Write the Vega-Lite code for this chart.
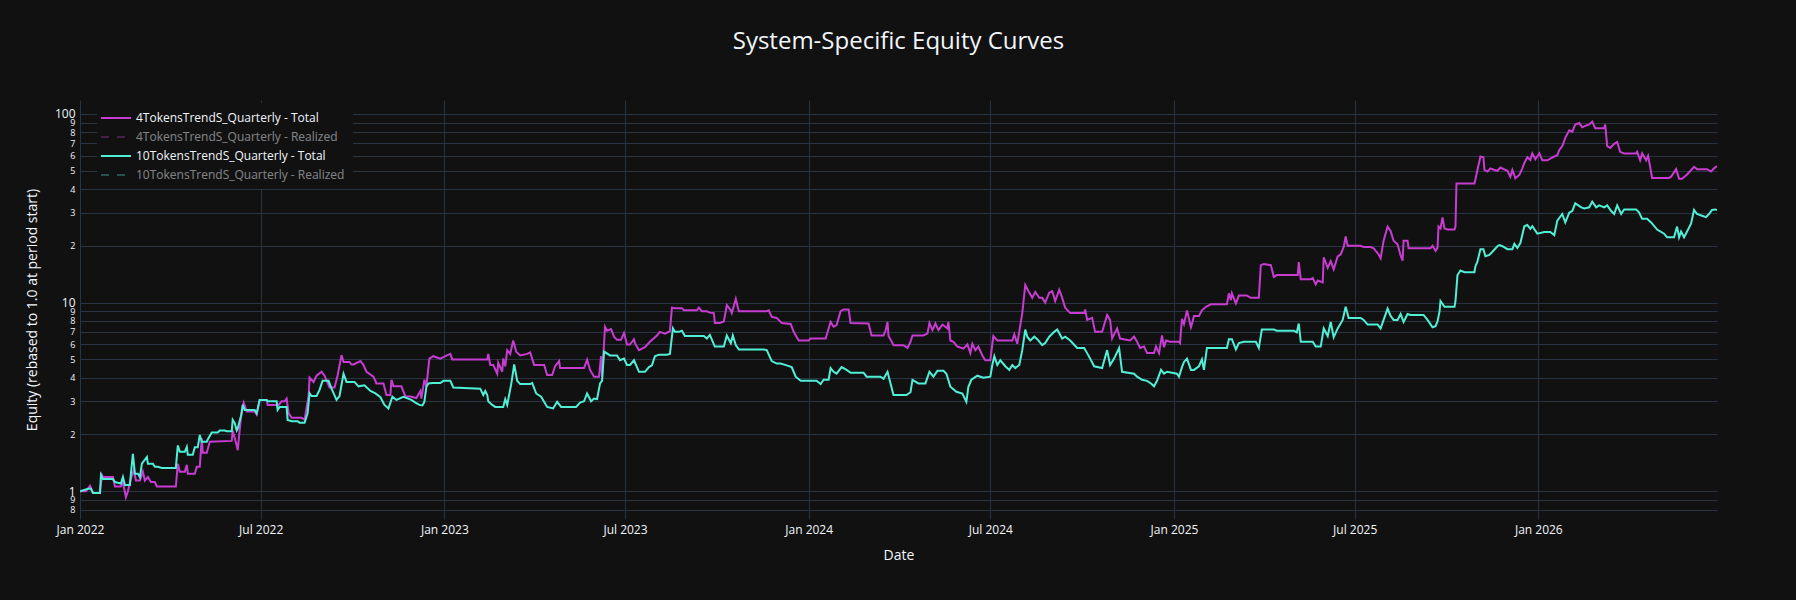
{
"$schema": "https://vega.github.io/schema/vega-lite/v6.json",
"width": 1637, "height": 419,
"autosize": {"type": "none"},
"padding": {"left": 80, "top": 100, "right": 79, "bottom": 81},
"background": "#111111",
"title": {"text": "System-Specific Equity Curves", "anchor": "middle", "fontSize": 24, "font": "Open Sans", "fontWeight": "normal", "color": "#f2f5fa", "offset": 46},
"config": {"view": {"stroke": null}},
"encoding": {
  "x": {"field": "d", "type": "temporal", "scale": {"type": "utc", "domain": [{"year": 2022, "month": 1, "date": 1, "utc": true}, {"year": 2026, "month": 6, "date": 29, "utc": true}]},
    "axis": {"tickCount": {"interval": "month", "step": 6}, "format": "%b %Y", "title": "Date", "grid": true, "gridColor": "#283442", "gridWidth": 1, "domain": false, "ticks": false, "labelColor": "#f2f5fa", "labelFont": "Open Sans", "labelFontSize": 12, "labelPadding": 5, "labelFlush": false, "titleFont": "Open Sans", "titleFontSize": 14, "titleFontWeight": "normal", "titleColor": "#f2f5fa", "titleY": 36.5, "titleBaseline": "middle"}},
  "y": {"field": "v", "type": "quantitative", "scale": {"type": "log", "domain": [0.713, 118.6], "nice": false},
    "axis": {"values": [0.8, 0.9, 1, 2, 3, 4, 5, 6, 7, 8, 9, 10, 20, 30, 40, 50, 60, 70, 80, 90, 100],
      "labelExpr": "(datum.value == 1 || datum.value == 10 || datum.value == 100) ? ('' + datum.value) : ('' + round(datum.value / pow(10, floor(log(datum.value) / LN10 + 1e-9))))",
      "labelFontSize": {"condition": {"test": "datum.value == 1 || datum.value == 10 || datum.value == 100", "value": 12}, "value": 9},
      "title": "Equity (rebased to 1.0 at period start)", "grid": true, "gridColor": "#283442", "gridWidth": 1, "domain": false, "ticks": false, "labelColor": "#f2f5fa", "labelFont": "Open Sans", "labelPadding": 5, "labelFlush": false, "labelOverlap": false, "labelBaseline": "middle",
      "titleFont": "Open Sans", "titleFontSize": 14, "titleFontWeight": "normal", "titleColor": "#f2f5fa", "titleX": -48, "titleY": 209.5, "titleAngle": -90, "titleAlign": "center", "titleBaseline": "middle"}},
  "color": {"scale": {"domain": ["4TokensTrendS_Quarterly - Total", "4TokensTrendS_Quarterly - Realized", "10TokensTrendS_Quarterly - Total", "10TokensTrendS_Quarterly - Realized"], "range": ["#c83cd2", "#c83cd2", "#50f0d7", "#50f0d7"]},
    "legend": {"title": null, "orient": "none", "legendX": 17, "legendY": 3, "fillColor": "#111111", "padding": 8, "symbolType": "M-2.5,0H2.5", "symbolSize": 144, "symbolStrokeWidth": 2, "symbolOffset": 4, "labelOffset": 13, "rowPadding": 6, "labelFont": "Open Sans", "labelFontSize": 12, "labelColor": "#f2f5fa", "labelLimit": 500,
      "encode": {"symbols": {"update": {"opacity": {"signal": "indexof(datum.value, 'Realized') >= 0 ? 0.3 : 1"}, "strokeDash": {"signal": "indexof(datum.value, 'Realized') >= 0 ? [8, 8] : [1, 0]"}}}, "labels": {"update": {"opacity": {"signal": "indexof(datum.value, 'Realized') >= 0 ? 0.5 : 1"}}}}}}
},
"layer": [
{"mark": {"type": "line", "strokeWidth": 2, "clip": true}, "encoding": {"color": {"datum": "4TokensTrendS_Quarterly - Total"}},
 "data": {"values": [
{"d":"2022-01-01","v":1.0},{"d":"2022-01-07","v":1.0},{"d":"2022-01-11","v":1.07},{"d":"2022-01-14","v":0.98},{"d":"2022-01-21","v":0.98},{"d":"2022-01-23","v":1.22},{"d":"2022-01-24","v":1.19},{"d":"2022-02-03","v":1.19},{"d":"2022-02-05","v":1.06},{"d":"2022-02-11","v":1.06},{"d":"2022-02-13","v":1.12},{"d":"2022-02-16","v":0.93},{"d":"2022-02-18","v":1.0},{"d":"2022-02-21","v":1.17},{"d":"2022-02-24","v":1.3},{"d":"2022-02-26","v":1.14},{"d":"2022-03-02","v":1.14},{"d":"2022-03-05","v":1.27},{"d":"2022-03-07","v":1.14},{"d":"2022-03-10","v":1.19},{"d":"2022-03-13","v":1.12},{"d":"2022-03-17","v":1.12},{"d":"2022-03-19","v":1.06},{"d":"2022-04-07","v":1.06},{"d":"2022-04-09","v":1.4},{"d":"2022-04-11","v":1.27},{"d":"2022-04-16","v":1.27},{"d":"2022-04-18","v":1.38},{"d":"2022-04-19","v":1.24},{"d":"2022-04-26","v":1.24},{"d":"2022-04-28","v":1.35},{"d":"2022-05-01","v":1.35},{"d":"2022-05-03","v":1.91},{"d":"2022-05-04","v":1.6},{"d":"2022-05-08","v":1.6},{"d":"2022-05-11","v":1.83},{"d":"2022-06-02","v":1.85},{"d":"2022-06-03","v":2.1},{"d":"2022-06-07","v":1.75},{"d":"2022-06-08","v":1.65},{"d":"2022-06-12","v":2.7},{"d":"2022-06-14","v":2.95},{"d":"2022-06-17","v":2.65},{"d":"2022-06-25","v":2.65},{"d":"2022-06-27","v":2.55},{"d":"2022-06-30","v":3.05},{"d":"2022-07-07","v":3.05},{"d":"2022-07-08","v":2.87},{"d":"2022-07-19","v":2.87},{"d":"2022-07-22","v":3.0},{"d":"2022-07-25","v":3.0},{"d":"2022-07-27","v":3.1},{"d":"2022-07-29","v":2.59},{"d":"2022-08-01","v":2.45},{"d":"2022-08-11","v":2.45},{"d":"2022-08-14","v":2.4},{"d":"2022-08-18","v":3.2},{"d":"2022-08-19","v":4.0},{"d":"2022-08-23","v":3.8},{"d":"2022-08-26","v":4.1},{"d":"2022-08-31","v":4.3},{"d":"2022-09-03","v":4.1},{"d":"2022-09-08","v":3.55},{"d":"2022-09-13","v":3.55},{"d":"2022-09-16","v":4.1},{"d":"2022-09-20","v":5.27},{"d":"2022-09-22","v":4.85},{"d":"2022-09-28","v":4.85},{"d":"2022-09-30","v":4.7},{"d":"2022-10-02","v":4.7},{"d":"2022-10-09","v":4.9},{"d":"2022-10-12","v":4.67},{"d":"2022-10-15","v":4.3},{"d":"2022-10-22","v":4.05},{"d":"2022-10-25","v":3.73},{"d":"2022-11-01","v":3.73},{"d":"2022-11-04","v":3.24},{"d":"2022-11-08","v":3.24},{"d":"2022-11-09","v":3.9},{"d":"2022-11-11","v":3.6},{"d":"2022-11-19","v":3.6},{"d":"2022-11-23","v":3.18},{"d":"2022-11-28","v":3.18},{"d":"2022-12-04","v":3.12},{"d":"2022-12-08","v":3.4},{"d":"2022-12-09","v":3.1},{"d":"2022-12-12","v":3.9},{"d":"2022-12-14","v":3.6},{"d":"2022-12-17","v":5.05},{"d":"2022-12-21","v":5.2},{"d":"2022-12-28","v":5.05},{"d":"2023-01-02","v":5.2},{"d":"2023-01-07","v":5.35},{"d":"2023-01-09","v":5.0},{"d":"2023-02-13","v":5.0},{"d":"2023-02-14","v":5.35},{"d":"2023-02-16","v":4.67},{"d":"2023-02-19","v":4.67},{"d":"2023-02-23","v":4.2},{"d":"2023-02-24","v":4.8},{"d":"2023-02-28","v":4.3},{"d":"2023-03-01","v":5.05},{"d":"2023-03-03","v":4.6},{"d":"2023-03-05","v":5.6},{"d":"2023-03-08","v":5.35},{"d":"2023-03-11","v":6.3},{"d":"2023-03-14","v":5.5},{"d":"2023-03-18","v":5.25},{"d":"2023-03-25","v":5.35},{"d":"2023-03-28","v":5.45},{"d":"2023-04-01","v":4.67},{"d":"2023-04-11","v":4.67},{"d":"2023-04-14","v":4.13},{"d":"2023-04-19","v":4.13},{"d":"2023-04-22","v":4.6},{"d":"2023-04-26","v":4.9},{"d":"2023-04-27","v":4.5},{"d":"2023-05-21","v":4.5},{"d":"2023-05-24","v":4.98},{"d":"2023-05-27","v":4.4},{"d":"2023-05-31","v":4.05},{"d":"2023-06-05","v":4.05},{"d":"2023-06-07","v":5.2},{"d":"2023-06-08","v":4.05},{"d":"2023-06-11","v":7.45},{"d":"2023-06-13","v":7.1},{"d":"2023-06-17","v":7.25},{"d":"2023-06-20","v":6.6},{"d":"2023-06-23","v":6.35},{"d":"2023-06-27","v":6.35},{"d":"2023-06-30","v":6.9},{"d":"2023-07-03","v":6.0},{"d":"2023-07-06","v":6.0},{"d":"2023-07-10","v":6.4},{"d":"2023-07-11","v":6.1},{"d":"2023-07-15","v":5.6},{"d":"2023-07-21","v":5.8},{"d":"2023-07-26","v":6.2},{"d":"2023-08-02","v":6.7},{"d":"2023-08-05","v":7.0},{"d":"2023-08-10","v":6.85},{"d":"2023-08-15","v":7.05},{"d":"2023-08-17","v":9.4},{"d":"2023-08-20","v":9.35},{"d":"2023-08-27","v":9.35},{"d":"2023-08-29","v":9.1},{"d":"2023-09-11","v":9.1},{"d":"2023-09-13","v":9.4},{"d":"2023-09-16","v":9.0},{"d":"2023-09-21","v":9.0},{"d":"2023-09-24","v":8.85},{"d":"2023-09-28","v":8.8},{"d":"2023-09-29","v":7.8},{"d":"2023-10-04","v":7.8},{"d":"2023-10-08","v":7.95},{"d":"2023-10-11","v":9.7},{"d":"2023-10-15","v":9.1},{"d":"2023-10-16","v":8.8},{"d":"2023-10-20","v":10.45},{"d":"2023-10-23","v":9.0},{"d":"2023-11-20","v":9.0},{"d":"2023-11-22","v":9.1},{"d":"2023-11-25","v":8.4},{"d":"2023-11-30","v":8.3},{"d":"2023-12-05","v":7.8},{"d":"2023-12-14","v":7.7},{"d":"2023-12-17","v":7.0},{"d":"2023-12-22","v":6.3},{"d":"2024-01-01","v":6.3},{"d":"2024-01-03","v":6.45},{"d":"2024-01-18","v":6.45},{"d":"2024-01-21","v":7.3},{"d":"2024-01-23","v":7.9},{"d":"2024-01-26","v":7.45},{"d":"2024-01-29","v":7.6},{"d":"2024-02-02","v":9.0},{"d":"2024-02-05","v":9.2},{"d":"2024-02-10","v":9.2},{"d":"2024-02-12","v":7.8},{"d":"2024-03-01","v":7.75},{"d":"2024-03-04","v":6.7},{"d":"2024-03-16","v":6.7},{"d":"2024-03-18","v":7.1},{"d":"2024-03-20","v":7.9},{"d":"2024-03-21","v":6.65},{"d":"2024-03-25","v":6.1},{"d":"2024-03-26","v":5.95},{"d":"2024-04-05","v":5.95},{"d":"2024-04-09","v":5.75},{"d":"2024-04-12","v":6.2},{"d":"2024-04-14","v":6.7},{"d":"2024-04-25","v":6.7},{"d":"2024-04-29","v":6.85},{"d":"2024-05-01","v":7.8},{"d":"2024-05-04","v":7.15},{"d":"2024-05-07","v":7.75},{"d":"2024-05-10","v":7.15},{"d":"2024-05-14","v":7.65},{"d":"2024-05-19","v":7.3},{"d":"2024-05-20","v":7.9},{"d":"2024-05-22","v":6.3},{"d":"2024-05-25","v":6.2},{"d":"2024-05-29","v":5.85},{"d":"2024-06-04","v":5.7},{"d":"2024-06-08","v":6.0},{"d":"2024-06-11","v":5.4},{"d":"2024-06-13","v":6.05},{"d":"2024-06-16","v":5.6},{"d":"2024-06-19","v":5.85},{"d":"2024-06-23","v":5.25},{"d":"2024-06-26","v":4.95},{"d":"2024-07-01","v":4.95},{"d":"2024-07-04","v":6.65},{"d":"2024-07-08","v":6.3},{"d":"2024-07-23","v":6.3},{"d":"2024-07-25","v":6.8},{"d":"2024-07-28","v":6.05},{"d":"2024-08-02","v":8.8},{"d":"2024-08-05","v":12.4},{"d":"2024-08-09","v":11.3},{"d":"2024-08-12","v":10.6},{"d":"2024-08-15","v":11.4},{"d":"2024-08-19","v":10.6},{"d":"2024-08-22","v":10.6},{"d":"2024-08-25","v":10.0},{"d":"2024-08-29","v":11.3},{"d":"2024-09-01","v":11.5},{"d":"2024-09-04","v":10.2},{"d":"2024-09-08","v":11.7},{"d":"2024-09-11","v":10.6},{"d":"2024-09-14","v":9.4},{"d":"2024-09-19","v":8.8},{"d":"2024-10-03","v":8.8},{"d":"2024-10-04","v":9.2},{"d":"2024-10-06","v":8.1},{"d":"2024-10-11","v":8.3},{"d":"2024-10-14","v":7.0},{"d":"2024-10-21","v":7.0},{"d":"2024-10-26","v":8.6},{"d":"2024-10-29","v":8.1},{"d":"2024-10-31","v":6.45},{"d":"2024-11-05","v":7.3},{"d":"2024-11-08","v":6.45},{"d":"2024-11-18","v":6.3},{"d":"2024-11-22","v":6.6},{"d":"2024-11-25","v":6.2},{"d":"2024-11-28","v":5.75},{"d":"2024-12-02","v":5.85},{"d":"2024-12-05","v":5.4},{"d":"2024-12-12","v":5.4},{"d":"2024-12-14","v":5.85},{"d":"2024-12-17","v":5.4},{"d":"2024-12-20","v":6.7},{"d":"2024-12-22","v":5.8},{"d":"2024-12-24","v":6.3},{"d":"2024-12-28","v":6.2},{"d":"2025-01-06","v":6.2},{"d":"2025-01-07","v":6.1},{"d":"2025-01-09","v":8.2},{"d":"2025-01-11","v":7.7},{"d":"2025-01-14","v":9.1},{"d":"2025-01-18","v":7.4},{"d":"2025-01-19","v":7.7},{"d":"2025-01-21","v":8.5},{"d":"2025-01-26","v":8.5},{"d":"2025-01-29","v":9.1},{"d":"2025-02-02","v":9.5},{"d":"2025-02-07","v":9.8},{"d":"2025-02-23","v":9.8},{"d":"2025-02-25","v":11.2},{"d":"2025-02-27","v":10.3},{"d":"2025-02-28","v":11.2},{"d":"2025-03-04","v":9.9},{"d":"2025-03-07","v":10.9},{"d":"2025-03-15","v":10.9},{"d":"2025-03-19","v":10.6},{"d":"2025-03-27","v":10.6},{"d":"2025-03-29","v":15.8},{"d":"2025-04-01","v":16.0},{"d":"2025-04-08","v":15.8},{"d":"2025-04-11","v":13.7},{"d":"2025-04-14","v":14.0},{"d":"2025-05-05","v":14.0},{"d":"2025-05-06","v":16.4},{"d":"2025-05-08","v":13.3},{"d":"2025-05-18","v":13.3},{"d":"2025-05-20","v":13.5},{"d":"2025-05-23","v":12.5},{"d":"2025-05-25","v":13.1},{"d":"2025-05-30","v":12.8},{"d":"2025-05-31","v":17.4},{"d":"2025-06-04","v":15.3},{"d":"2025-06-07","v":16.6},{"d":"2025-06-10","v":15.0},{"d":"2025-06-14","v":17.6},{"d":"2025-06-17","v":18.0},{"d":"2025-06-20","v":19.7},{"d":"2025-06-22","v":22.4},{"d":"2025-06-24","v":20.0},{"d":"2025-07-07","v":20.0},{"d":"2025-07-10","v":19.7},{"d":"2025-07-17","v":19.7},{"d":"2025-07-20","v":19.4},{"d":"2025-07-25","v":18.0},{"d":"2025-07-27","v":17.2},{"d":"2025-07-30","v":21.3},{"d":"2025-08-03","v":25.3},{"d":"2025-08-06","v":24.0},{"d":"2025-08-09","v":21.3},{"d":"2025-08-13","v":20.4},{"d":"2025-08-16","v":17.8},{"d":"2025-08-18","v":16.7},{"d":"2025-08-19","v":21.3},{"d":"2025-08-23","v":21.3},{"d":"2025-08-24","v":19.4},{"d":"2025-09-15","v":19.4},{"d":"2025-09-17","v":20.0},{"d":"2025-09-20","v":18.8},{"d":"2025-09-22","v":19.5},{"d":"2025-09-23","v":25.3},{"d":"2025-09-25","v":24.7},{"d":"2025-09-27","v":28.3},{"d":"2025-09-29","v":24.7},{"d":"2025-10-02","v":24.4},{"d":"2025-10-09","v":24.4},{"d":"2025-10-10","v":25.3},{"d":"2025-10-11","v":42.8},{"d":"2025-10-29","v":42.8},{"d":"2025-10-30","v":45.0},{"d":"2025-11-01","v":50.5},{"d":"2025-11-04","v":59.5},{"d":"2025-11-07","v":59.0},{"d":"2025-11-08","v":50.5},{"d":"2025-11-11","v":49.5},{"d":"2025-11-14","v":51.5},{"d":"2025-11-18","v":50.5},{"d":"2025-11-21","v":50.0},{"d":"2025-11-24","v":52.0},{"d":"2025-12-01","v":50.0},{"d":"2025-12-04","v":46.5},{"d":"2025-12-06","v":50.5},{"d":"2025-12-09","v":45.6},{"d":"2025-12-13","v":47.5},{"d":"2025-12-16","v":51.5},{"d":"2025-12-18","v":55.0},{"d":"2025-12-21","v":59.0},{"d":"2025-12-24","v":57.0},{"d":"2025-12-26","v":61.8},{"d":"2025-12-29","v":57.5},{"d":"2026-01-02","v":61.8},{"d":"2026-01-05","v":56.8},{"d":"2026-01-10","v":56.8},{"d":"2026-01-13","v":58.0},{"d":"2026-01-17","v":59.5},{"d":"2026-01-20","v":60.5},{"d":"2026-01-22","v":64.5},{"d":"2026-01-25","v":67.6},{"d":"2026-01-28","v":74.7},{"d":"2026-02-01","v":82.0},{"d":"2026-02-04","v":80.5},{"d":"2026-02-07","v":88.0},{"d":"2026-02-11","v":89.5},{"d":"2026-02-14","v":85.0},{"d":"2026-02-17","v":86.5},{"d":"2026-02-21","v":88.0},{"d":"2026-02-24","v":91.0},{"d":"2026-02-27","v":84.0},{"d":"2026-03-08","v":84.0},{"d":"2026-03-09","v":88.0},{"d":"2026-03-11","v":67.6},{"d":"2026-03-14","v":66.0},{"d":"2026-03-18","v":69.5},{"d":"2026-03-21","v":71.0},{"d":"2026-03-24","v":63.0},{"d":"2026-03-28","v":61.8},{"d":"2026-04-09","v":61.8},{"d":"2026-04-10","v":63.0},{"d":"2026-04-13","v":56.8},{"d":"2026-04-15","v":61.8},{"d":"2026-04-19","v":56.8},{"d":"2026-04-21","v":60.0},{"d":"2026-04-25","v":45.8},{"d":"2026-05-12","v":45.8},{"d":"2026-05-14","v":46.5},{"d":"2026-05-19","v":51.0},{"d":"2026-05-22","v":45.4},{"d":"2026-05-25","v":45.4},{"d":"2026-05-30","v":47.8},{"d":"2026-06-06","v":52.5},{"d":"2026-06-09","v":51.0},{"d":"2026-06-19","v":51.0},{"d":"2026-06-23","v":49.5},{"d":"2026-06-26","v":51.5},{"d":"2026-06-29","v":53.0}
 ]}},
{"mark": {"type": "line", "strokeWidth": 2, "clip": true}, "encoding": {"color": {"datum": "10TokensTrendS_Quarterly - Total"}},
 "data": {"values": [
{"d":"2022-01-01","v":1.0},{"d":"2022-01-09","v":1.03},{"d":"2022-01-12","v":1.03},{"d":"2022-01-14","v":0.98},{"d":"2022-01-21","v":0.98},{"d":"2022-01-22","v":1.22},{"d":"2022-01-24","v":1.16},{"d":"2022-02-03","v":1.16},{"d":"2022-02-05","v":1.12},{"d":"2022-02-11","v":1.1},{"d":"2022-02-13","v":1.19},{"d":"2022-02-15","v":1.08},{"d":"2022-02-20","v":1.08},{"d":"2022-02-21","v":1.24},{"d":"2022-02-23","v":1.58},{"d":"2022-02-25","v":1.24},{"d":"2022-02-28","v":1.24},{"d":"2022-03-02","v":1.19},{"d":"2022-03-04","v":1.4},{"d":"2022-03-09","v":1.52},{"d":"2022-03-10","v":1.4},{"d":"2022-03-15","v":1.4},{"d":"2022-03-17","v":1.35},{"d":"2022-03-20","v":1.35},{"d":"2022-03-24","v":1.33},{"d":"2022-04-07","v":1.33},{"d":"2022-04-09","v":1.75},{"d":"2022-04-11","v":1.62},{"d":"2022-04-16","v":1.62},{"d":"2022-04-18","v":1.72},{"d":"2022-04-19","v":1.56},{"d":"2022-04-24","v":1.56},{"d":"2022-04-26","v":1.71},{"d":"2022-04-29","v":1.71},{"d":"2022-05-01","v":1.99},{"d":"2022-05-03","v":1.83},{"d":"2022-05-08","v":1.83},{"d":"2022-05-09","v":1.88},{"d":"2022-05-13","v":2.05},{"d":"2022-05-19","v":2.05},{"d":"2022-05-21","v":2.1},{"d":"2022-05-26","v":2.1},{"d":"2022-05-28","v":2.08},{"d":"2022-06-02","v":2.08},{"d":"2022-06-03","v":2.39},{"d":"2022-06-05","v":2.3},{"d":"2022-06-07","v":2.1},{"d":"2022-06-08","v":2.15},{"d":"2022-06-12","v":2.59},{"d":"2022-06-13","v":2.87},{"d":"2022-06-15","v":2.7},{"d":"2022-06-25","v":2.7},{"d":"2022-06-27","v":2.59},{"d":"2022-06-30","v":3.05},{"d":"2022-07-07","v":3.05},{"d":"2022-07-08","v":3.0},{"d":"2022-07-17","v":3.0},{"d":"2022-07-18","v":2.7},{"d":"2022-07-20","v":2.8},{"d":"2022-07-27","v":2.8},{"d":"2022-07-28","v":2.39},{"d":"2022-08-01","v":2.35},{"d":"2022-08-07","v":2.35},{"d":"2022-08-09","v":2.31},{"d":"2022-08-14","v":2.31},{"d":"2022-08-17","v":2.59},{"d":"2022-08-19","v":3.31},{"d":"2022-08-21","v":3.2},{"d":"2022-08-26","v":3.2},{"d":"2022-08-29","v":3.45},{"d":"2022-09-01","v":3.85},{"d":"2022-09-07","v":3.85},{"d":"2022-09-10","v":3.5},{"d":"2022-09-15","v":3.05},{"d":"2022-09-18","v":3.2},{"d":"2022-09-22","v":4.2},{"d":"2022-09-25","v":3.8},{"d":"2022-10-03","v":3.8},{"d":"2022-10-07","v":3.6},{"d":"2022-10-13","v":3.65},{"d":"2022-10-19","v":3.4},{"d":"2022-10-24","v":3.3},{"d":"2022-10-29","v":3.15},{"d":"2022-11-02","v":2.87},{"d":"2022-11-06","v":2.75},{"d":"2022-11-10","v":3.17},{"d":"2022-11-14","v":3.05},{"d":"2022-11-21","v":3.17},{"d":"2022-11-29","v":3.05},{"d":"2022-12-03","v":2.95},{"d":"2022-12-07","v":2.87},{"d":"2022-12-10","v":2.85},{"d":"2022-12-12","v":2.98},{"d":"2022-12-14","v":3.58},{"d":"2022-12-16","v":3.73},{"d":"2022-12-20","v":3.75},{"d":"2022-12-28","v":3.75},{"d":"2022-12-31","v":3.85},{"d":"2023-01-07","v":3.85},{"d":"2023-01-10","v":3.55},{"d":"2023-02-06","v":3.5},{"d":"2023-02-09","v":3.24},{"d":"2023-02-11","v":3.4},{"d":"2023-02-13","v":3.24},{"d":"2023-02-14","v":3.0},{"d":"2023-02-18","v":2.87},{"d":"2023-02-21","v":2.8},{"d":"2023-03-01","v":2.8},{"d":"2023-03-03","v":3.08},{"d":"2023-03-05","v":2.87},{"d":"2023-03-09","v":3.7},{"d":"2023-03-12","v":4.7},{"d":"2023-03-15","v":3.85},{"d":"2023-03-18","v":3.7},{"d":"2023-03-28","v":3.7},{"d":"2023-03-30","v":3.75},{"d":"2023-04-03","v":3.3},{"d":"2023-04-08","v":3.17},{"d":"2023-04-14","v":2.8},{"d":"2023-04-20","v":2.75},{"d":"2023-04-24","v":2.98},{"d":"2023-04-28","v":2.8},{"d":"2023-05-13","v":2.8},{"d":"2023-05-17","v":2.95},{"d":"2023-05-21","v":3.0},{"d":"2023-05-24","v":3.3},{"d":"2023-05-28","v":3.0},{"d":"2023-05-31","v":3.1},{"d":"2023-06-03","v":3.08},{"d":"2023-06-06","v":3.73},{"d":"2023-06-08","v":3.85},{"d":"2023-06-10","v":5.5},{"d":"2023-06-16","v":5.25},{"d":"2023-06-23","v":5.25},{"d":"2023-06-26","v":4.95},{"d":"2023-06-30","v":5.05},{"d":"2023-07-03","v":4.67},{"d":"2023-07-06","v":4.67},{"d":"2023-07-10","v":4.95},{"d":"2023-07-15","v":4.3},{"d":"2023-07-21","v":4.3},{"d":"2023-07-25","v":4.55},{"d":"2023-07-28","v":4.65},{"d":"2023-07-31","v":5.2},{"d":"2023-08-04","v":5.3},{"d":"2023-08-12","v":5.3},{"d":"2023-08-15","v":5.35},{"d":"2023-08-18","v":7.3},{"d":"2023-08-20","v":7.0},{"d":"2023-08-24","v":7.0},{"d":"2023-08-27","v":7.1},{"d":"2023-08-30","v":6.65},{"d":"2023-09-18","v":6.65},{"d":"2023-09-21","v":6.45},{"d":"2023-09-24","v":6.75},{"d":"2023-09-29","v":5.85},{"d":"2023-10-08","v":5.85},{"d":"2023-10-11","v":6.7},{"d":"2023-10-15","v":6.1},{"d":"2023-10-17","v":6.7},{"d":"2023-10-20","v":5.95},{"d":"2023-10-23","v":5.65},{"d":"2023-11-17","v":5.65},{"d":"2023-11-20","v":5.6},{"d":"2023-11-25","v":4.9},{"d":"2023-11-30","v":4.75},{"d":"2023-12-04","v":4.75},{"d":"2023-12-10","v":4.65},{"d":"2023-12-15","v":4.55},{"d":"2023-12-19","v":4.05},{"d":"2023-12-24","v":3.85},{"d":"2024-01-09","v":3.85},{"d":"2024-01-13","v":3.7},{"d":"2024-01-16","v":3.9},{"d":"2024-01-21","v":3.9},{"d":"2024-01-23","v":4.5},{"d":"2024-01-26","v":4.3},{"d":"2024-01-29","v":4.2},{"d":"2024-02-03","v":4.55},{"d":"2024-02-08","v":4.4},{"d":"2024-02-12","v":4.25},{"d":"2024-02-25","v":4.25},{"d":"2024-02-28","v":4.05},{"d":"2024-03-13","v":4.05},{"d":"2024-03-16","v":3.95},{"d":"2024-03-20","v":4.3},{"d":"2024-03-23","v":3.73},{"d":"2024-03-26","v":3.24},{"d":"2024-04-08","v":3.24},{"d":"2024-04-12","v":3.35},{"d":"2024-04-14","v":3.9},{"d":"2024-04-20","v":3.73},{"d":"2024-04-27","v":3.73},{"d":"2024-05-01","v":4.3},{"d":"2024-05-05","v":4.05},{"d":"2024-05-09","v":4.35},{"d":"2024-05-15","v":4.35},{"d":"2024-05-18","v":4.2},{"d":"2024-05-22","v":3.58},{"d":"2024-05-28","v":3.37},{"d":"2024-06-03","v":3.3},{"d":"2024-06-07","v":2.98},{"d":"2024-06-09","v":3.58},{"d":"2024-06-12","v":3.9},{"d":"2024-06-18","v":4.1},{"d":"2024-06-24","v":4.0},{"d":"2024-07-01","v":4.05},{"d":"2024-07-03","v":4.67},{"d":"2024-07-05","v":5.2},{"d":"2024-07-08","v":4.67},{"d":"2024-07-11","v":4.95},{"d":"2024-07-16","v":4.6},{"d":"2024-07-20","v":4.4},{"d":"2024-07-23","v":4.67},{"d":"2024-07-26","v":4.5},{"d":"2024-07-30","v":4.67},{"d":"2024-08-02","v":5.6},{"d":"2024-08-05","v":7.2},{"d":"2024-08-07","v":6.6},{"d":"2024-08-10","v":6.3},{"d":"2024-08-14","v":6.6},{"d":"2024-08-17","v":6.4},{"d":"2024-08-22","v":5.95},{"d":"2024-08-25","v":6.1},{"d":"2024-08-29","v":6.6},{"d":"2024-09-03","v":7.0},{"d":"2024-09-06","v":7.2},{"d":"2024-09-11","v":6.45},{"d":"2024-09-14","v":6.6},{"d":"2024-09-19","v":6.3},{"d":"2024-09-26","v":5.75},{"d":"2024-10-03","v":5.75},{"d":"2024-10-06","v":5.4},{"d":"2024-10-09","v":5.05},{"d":"2024-10-13","v":4.6},{"d":"2024-10-21","v":4.5},{"d":"2024-10-26","v":5.6},{"d":"2024-10-29","v":4.67},{"d":"2024-11-02","v":5.05},{"d":"2024-11-07","v":5.75},{"d":"2024-11-10","v":4.3},{"d":"2024-11-22","v":4.2},{"d":"2024-11-25","v":4.05},{"d":"2024-11-30","v":3.9},{"d":"2024-12-05","v":3.85},{"d":"2024-12-09","v":3.73},{"d":"2024-12-12","v":3.6},{"d":"2024-12-15","v":3.85},{"d":"2024-12-19","v":4.4},{"d":"2024-12-22","v":4.2},{"d":"2024-12-25","v":4.3},{"d":"2025-01-04","v":4.2},{"d":"2025-01-06","v":4.05},{"d":"2025-01-09","v":4.55},{"d":"2025-01-11","v":4.85},{"d":"2025-01-14","v":5.05},{"d":"2025-01-18","v":4.4},{"d":"2025-01-21","v":4.4},{"d":"2025-01-26","v":4.6},{"d":"2025-01-29","v":5.0},{"d":"2025-01-31","v":4.4},{"d":"2025-02-03","v":5.75},{"d":"2025-02-23","v":5.75},{"d":"2025-02-25","v":6.4},{"d":"2025-02-28","v":6.4},{"d":"2025-03-04","v":5.65},{"d":"2025-03-07","v":6.1},{"d":"2025-03-12","v":6.2},{"d":"2025-03-24","v":6.2},{"d":"2025-03-27","v":5.75},{"d":"2025-03-30","v":7.2},{"d":"2025-04-11","v":7.2},{"d":"2025-04-14","v":7.1},{"d":"2025-05-01","v":7.1},{"d":"2025-05-04","v":6.95},{"d":"2025-05-06","v":7.75},{"d":"2025-05-08","v":6.2},{"d":"2025-05-20","v":6.2},{"d":"2025-05-23","v":5.85},{"d":"2025-05-28","v":5.85},{"d":"2025-05-31","v":7.3},{"d":"2025-06-04","v":6.65},{"d":"2025-06-07","v":7.9},{"d":"2025-06-10","v":6.55},{"d":"2025-06-14","v":7.3},{"d":"2025-06-19","v":8.1},{"d":"2025-06-22","v":9.5},{"d":"2025-06-25","v":8.3},{"d":"2025-07-07","v":8.3},{"d":"2025-07-10","v":8.1},{"d":"2025-07-14","v":7.65},{"d":"2025-07-24","v":7.65},{"d":"2025-07-27","v":7.3},{"d":"2025-07-30","v":8.1},{"d":"2025-08-03","v":9.3},{"d":"2025-08-06","v":8.5},{"d":"2025-08-09","v":8.1},{"d":"2025-08-13","v":8.1},{"d":"2025-08-16","v":8.7},{"d":"2025-08-19","v":7.9},{"d":"2025-08-23","v":8.7},{"d":"2025-08-26","v":8.6},{"d":"2025-09-08","v":8.6},{"d":"2025-09-12","v":8.1},{"d":"2025-09-17","v":7.4},{"d":"2025-09-20","v":7.5},{"d":"2025-09-22","v":7.95},{"d":"2025-09-24","v":8.95},{"d":"2025-09-25","v":10.2},{"d":"2025-09-29","v":9.5},{"d":"2025-10-09","v":9.5},{"d":"2025-10-10","v":10.2},{"d":"2025-10-12","v":14.0},{"d":"2025-10-15","v":14.8},{"d":"2025-10-19","v":14.5},{"d":"2025-10-29","v":14.5},{"d":"2025-10-30","v":15.6},{"d":"2025-11-01","v":16.5},{"d":"2025-11-04","v":19.2},{"d":"2025-11-07","v":19.2},{"d":"2025-11-09","v":17.6},{"d":"2025-11-13","v":17.9},{"d":"2025-11-16","v":18.6},{"d":"2025-11-21","v":19.9},{"d":"2025-11-23","v":20.2},{"d":"2025-11-26","v":19.9},{"d":"2025-12-01","v":19.2},{"d":"2025-12-06","v":19.2},{"d":"2025-12-08","v":20.5},{"d":"2025-12-11","v":19.5},{"d":"2025-12-14","v":20.7},{"d":"2025-12-18","v":25.4},{"d":"2025-12-21","v":25.8},{"d":"2025-12-24","v":24.6},{"d":"2025-12-26","v":25.4},{"d":"2025-12-31","v":23.2},{"d":"2026-01-07","v":23.7},{"d":"2026-01-13","v":23.7},{"d":"2026-01-17","v":22.8},{"d":"2026-01-20","v":27.2},{"d":"2026-01-25","v":29.5},{"d":"2026-01-28","v":26.6},{"d":"2026-02-01","v":30.0},{"d":"2026-02-04","v":30.6},{"d":"2026-02-07","v":33.6},{"d":"2026-02-13","v":32.0},{"d":"2026-02-16","v":31.6},{"d":"2026-02-21","v":32.0},{"d":"2026-02-24","v":34.3},{"d":"2026-02-28","v":32.0},{"d":"2026-03-03","v":32.8},{"d":"2026-03-08","v":32.0},{"d":"2026-03-11","v":32.8},{"d":"2026-03-15","v":30.6},{"d":"2026-03-18","v":29.5},{"d":"2026-03-21","v":32.8},{"d":"2026-03-25","v":29.5},{"d":"2026-03-28","v":31.2},{"d":"2026-04-09","v":31.2},{"d":"2026-04-12","v":30.0},{"d":"2026-04-15","v":27.8},{"d":"2026-04-20","v":27.8},{"d":"2026-04-24","v":26.6},{"d":"2026-04-30","v":24.4},{"d":"2026-05-07","v":23.2},{"d":"2026-05-10","v":22.2},{"d":"2026-05-17","v":22.2},{"d":"2026-05-20","v":25.3},{"d":"2026-05-22","v":22.2},{"d":"2026-05-24","v":23.8},{"d":"2026-05-27","v":22.2},{"d":"2026-05-30","v":23.8},{"d":"2026-06-03","v":26.2},{"d":"2026-06-06","v":31.0},{"d":"2026-06-09","v":29.5},{"d":"2026-06-14","v":28.9},{"d":"2026-06-18","v":28.4},{"d":"2026-06-21","v":29.5},{"d":"2026-06-24","v":31.0},{"d":"2026-06-27","v":31.2},{"d":"2026-06-29","v":31.0}
 ]}}
]
}
